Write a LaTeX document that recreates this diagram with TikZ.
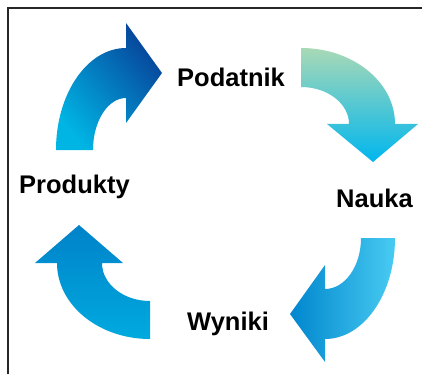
\documentclass[tikz,border=0pt]{standalone}
\usepackage{fontspec}
\setmainfont{Liberation Sans}
\begin{document}
\begin{tikzpicture}[x=1pt,y=-1pt,
  lbl/.style={inner sep=0pt, anchor=base west, font=\fontsize{25.5}{30}\selectfont\bfseries, text=black},
  frame/.style={draw=black!85, line width=1.6pt}]
\useasboundingbox (0,0) rectangle (422,374);
\definecolor{aOneA}{HTML}{00B4E4}
\definecolor{aOneB}{HTML}{089CD8}
\definecolor{aOneC}{HTML}{07449A}
\definecolor{aTwoA}{HTML}{A8D9B6}
\definecolor{aTwoB}{HTML}{00B6EE}
\definecolor{aThreeA}{HTML}{0086CE}
\definecolor{aThreeB}{HTML}{00B4EA}
\definecolor{aThreeC}{HTML}{48CBF2}
\definecolor{aFourA}{HTML}{0082C9}
\definecolor{aFourB}{HTML}{00AADF}
% frame
\coordinate (fTR) at (422,8);
\coordinate (fTL) at (8,8);
\coordinate (fBL) at (8,374);
\draw[frame] (fTR) -- (fTL) -- (fBL);
% arrow 1: Produkty -> Podatnik
\shade[top color=aOneA, middle color=aOneB, bottom color=aOneC, shading angle=130]
  (56,150) .. controls (56,93.7) and (87.3,48) .. (126,48)
  -- (126,23) -- (162,73) -- (126,123) -- (126,98)
  .. controls (107.8,98) and (93,121.3) .. (93,150) -- cycle;
% arrow 2: Podatnik -> Nauka
\shade[top color=aTwoA, bottom color=aTwoB]
  (301,48) .. controls (352.9,48) and (395,82.0) .. (395,124)
  -- (418,124) -- (373,162) -- (327,124) -- (349,124)
  .. controls (349,103.6) and (327.5,87) .. (301,87) -- cycle;
% arrow 3: Nauka -> Wyniki
\shade[left color=aThreeA, middle color=aThreeB, right color=aThreeC]
  (395,238) .. controls (395,293.8) and (363.7,339) .. (325,339)
  -- (325,362) -- (290,314) -- (325,265) -- (325,289)
  .. controls (344.9,289) and (361,266.2) .. (361,238) -- cycle;
% arrow 4: Wyniki -> Produkty
\shade[top color=aFourA, bottom color=aFourB]
  (150,339) .. controls (98.6,339) and (57,305.0) .. (57,263)
  -- (35,263) -- (79,225) -- (123,263) -- (102,263)
  .. controls (102,284.0) and (123.5,301) .. (150,301) -- cycle;
% labels
\node[lbl] (podatnik) at (177,87) {Podatnik};
\node[lbl] (nauka) at (336,207) {Nauka};
\node[lbl] (wyniki) at (187,330) {Wyniki};
\node[lbl] (produkty) at (19,193) {Produkty};
\end{tikzpicture}
\end{document}
